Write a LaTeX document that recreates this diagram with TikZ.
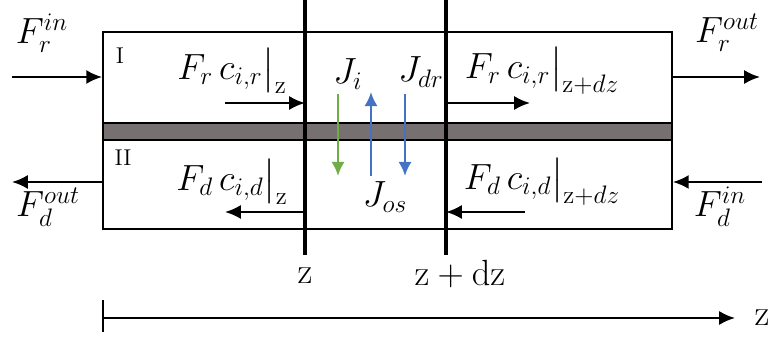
\documentclass[tikz,border=0pt]{standalone}
\usepackage{amsmath}
\usetikzlibrary{
  arrows.meta,
  positioning,
  calc
}
\definecolor{membgray}{RGB}{118,112,112}
\definecolor{fluxgreen}{RGB}{112,173,71}
\definecolor{fluxblue}{RGB}{68,114,196}
\tikzset{
  chanbox/.style={
    draw=black, line width=1.1pt, inner sep=0pt,
    minimum width=11.38cm
  },
  membbox/.style={
    draw=black, fill=membgray, line width=1.1pt, inner sep=0pt,
    minimum width=11.38cm, minimum height=0.34cm
  },
  sectionline/.style={
    draw=black, line width=2pt
  },
  flowarrow/.style={
    -{Latex[length=9pt,width=8pt]},
    draw=black, line width=1.3pt
  },
  fluxarrow/.style={
    -{Latex[length=8pt,width=7.5pt]},
    line width=1.4pt
  },
  flowlabel/.style={
    font=\fontsize{21}{24}\selectfont, inner sep=0pt
  },
  chanlabel/.style={
    font=\fontsize{13}{15}\selectfont, inner sep=0pt
  },
}

\begin{document}
\begin{tikzpicture}[x=0.02cm, y=0.02cm]

  \useasboundingbox (0,0) rectangle (771,338);

  %% Channels and membrane
  \node[chanbox, minimum height=1.82cm] (ret) at (387.5,260.5) {};
  \node[chanbox, minimum height=1.78cm] (perm) at (387.5,153.5) {};
  \node[membbox] (memb) at (387.5,206.5) {};

  \node[chanlabel] (chI) at (120,282) {I};
  \node[chanlabel] (chII) at (123,180) {II};

  %% Control volume boundaries
  \coordinate (zt) at (305,338);
  \coordinate (zb) at (305,83);
  \coordinate (dzt) at (446,338);
  \coordinate (dzb) at (446,83);
  \draw[sectionline] (zt) -- (zb);
  \draw[sectionline] (dzt) -- (dzb);
  \node[flowlabel] (zlab) at (305,62) {$\mathrm{z}$};
  \node[flowlabel] (dzlab) at (460,64) {$\mathrm{z}+\mathrm{dz}$};

  %% Feed side (I)
  \coordinate (frin0) at (12,261);
  \coordinate (frout1) at (760,261);
  \draw[flowarrow] (frin0) -- (ret.west |- frin0);
  \draw[flowarrow] (ret.east |- frout1) -- (frout1);
  \node[flowlabel] (frin) at (42,305) {$F_r^{in}$};
  \node[flowlabel] (frout) at (727,305) {$F_r^{out}$};

  \coordinate (frz0) at (225,235);
  \coordinate (frz1) at (305,235);
  \coordinate (frdz0) at (446,235);
  \coordinate (frdz1) at (530,235);
  \draw[flowarrow] (frz0) -- (frz1);
  \draw[flowarrow] (frdz0) -- (frdz1);
  \node[flowlabel] (frz) at (232,267) {$F_r\,c_{i,r}\big|_{\mathrm{z}}$};
  \node[flowlabel] (frdz) at (542,267) {$F_r\,c_{i,r}\big|_{\mathrm{z}+dz}$};

  %% Draw side (II)
  \coordinate (fdout1) at (12,156);
  \coordinate (fdin0) at (762,156);
  \draw[flowarrow] (perm.west |- fdout1) -- (fdout1);
  \draw[flowarrow] (fdin0) -- (perm.east |- fdin0);
  \node[flowlabel] (fdout) at (48,131) {$F_d^{out}$};
  \node[flowlabel] (fdin) at (720,131) {$F_d^{in}$};

  \coordinate (fdz0) at (305,126);
  \coordinate (fdz1) at (225,126);
  \coordinate (fddz0) at (525,126);
  \coordinate (fddz1) at (446,126);
  \draw[flowarrow] (fdz0) -- (fdz1);
  \draw[flowarrow] (fddz0) -- (fddz1);
  \node[flowlabel] (fdz) at (232,156) {$F_d\,c_{i,d}\big|_{\mathrm{z}}$};
  \node[flowlabel] (fddz) at (542,156) {$F_d\,c_{i,d}\big|_{\mathrm{z}+dz}$};

  %% Fluxes across the membrane
  \node[flowlabel] (ji) at (348,264) {$J_i$};
  \node[flowlabel] (jdr) at (421,266) {$J_{dr}$};
  \node[flowlabel] (jos) at (385,141) {$J_{os}$};
  \coordinate (jia) at (338,244);
  \coordinate (jib) at (338,162);
  \coordinate (josa) at (371,162);
  \coordinate (josb) at (371,246);
  \coordinate (jdra) at (405,244);
  \coordinate (jdrb) at (405,162);
  \draw[fluxarrow, fluxgreen] (jia) -- (jib);
  \draw[fluxarrow, fluxblue] (josa) -- (josb);
  \draw[fluxarrow, fluxblue] (jdra) -- (jdrb);

  %% Axis
  \coordinate (ax0) at (103,20);
  \coordinate (ax1) at (735,20);
  \draw[line width=1.5pt] (103,38) -- (103,6);
  \draw[flowarrow] (ax0) -- (ax1);
  \node[flowlabel] (axz) at (762,20) {$\mathrm{z}$};

\end{tikzpicture}
\end{document}
